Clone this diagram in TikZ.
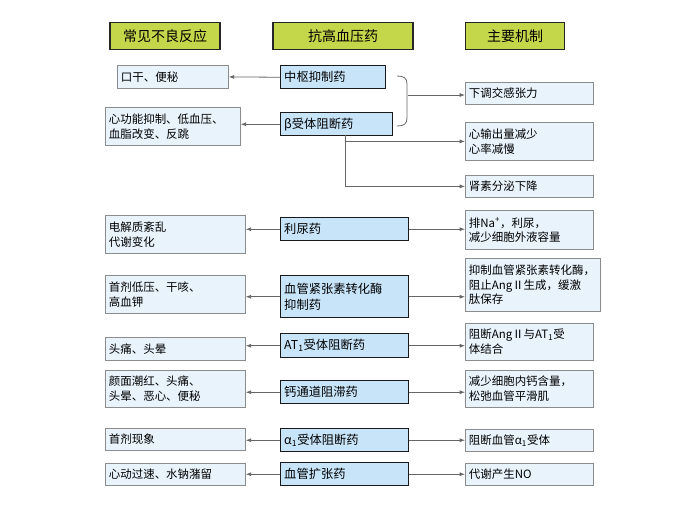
\documentclass[tikz,border=0pt]{standalone}
\usepackage{fontspec}
\setmainfont{Noto Sans CJK SC}
\usetikzlibrary{arrows.meta,decorations.pathreplacing}
\definecolor{hdrgreen}{RGB}{196,214,74}
\definecolor{midblue}{RGB}{200,228,248}
\definecolor{sideblue}{RGB}{232,243,252}
\tikzset{
  hdr/.style={draw=black!85,line width=1.2pt,fill=hdrgreen,minimum height=27*0.75pt,font=\fontsize{10.5}{12}\selectfont},
  mid/.style={draw=black!90,line width=1.1pt,fill=midblue,anchor=north west,align=left,inner sep=2.5pt,font=\fontsize{9.2}{12}\selectfont},
  side/.style={draw=black!45,line width=0.6pt,fill=sideblue,anchor=north west,align=left,inner sep=2.5pt,font=\fontsize{8.6}{11}\selectfont},
  link/.style={draw=black!60,line width=0.6pt,-{Latex[length=4pt,width=3pt]}}
}
\begin{document}
\begin{tikzpicture}[x=0.75pt,y=0.75pt,yscale=-1,xscale=1]
\useasboundingbox (0,0) rectangle (700,525);

% headers
\node[hdr,minimum width=110*0.75pt] (hAdv) at (165,36) {常见不良反应};
\node[hdr,minimum width=140*0.75pt] (hDrug) at (343,36) {抗高血压药};
\node[hdr,minimum width=99*0.75pt] (hMech) at (515,36) {主要机制};

% 中枢抑制药 / beta
\node[mid,minimum width=105*0.75pt,minimum height=23*0.75pt,text width=98*0.75pt] (dCen) at (280,65) {中枢抑制药};
\node[side,minimum width=111*0.75pt,minimum height=23*0.75pt,text width=104*0.75pt] (aCen) at (117,65) {口干、便秘};
\node[mid,minimum width=112*0.75pt,minimum height=23*0.75pt,text width=105*0.75pt] (dBeta) at (280,112) {β受体阻断药};
\node[side,minimum width=135*0.75pt,minimum height=38*0.75pt,text width=128*0.75pt] (aBeta) at (105,107) {心功能抑制、低血压、\\血脂改变、反跳};
\node[side,minimum width=128*0.75pt,minimum height=22*0.75pt,text width=121*0.75pt] (mSym) at (465,82) {下调交感张力};
\node[side,minimum width=128*0.75pt,minimum height=38*0.75pt,text width=121*0.75pt] (mHeart) at (465,122) {心输出量减少\\心率减慢};
\node[side,minimum width=128*0.75pt,minimum height=22*0.75pt,text width=121*0.75pt] (mRenin) at (465,175) {肾素分泌下降};

\draw[link] (dCen.west) -- (aCen.east);
\draw[link] (dBeta.west) -- (aBeta.east |- dBeta.west);
\draw[black!60,line width=0.6pt] (397,76) .. controls (404,76) and (407,78) .. (407,84) -- (407,118) .. controls (407,124) and (404,126) .. (397,126);
\coordinate (bTip) at (408,95);
\draw[link] (bTip) -- (mSym.west |- bTip);
\coordinate (bStem) at (345,135);
\draw[link] (bStem) |- (mHeart.west);
\draw[link] (bStem) |- (mRenin.west);

% 利尿药
\node[mid,minimum width=128*0.75pt,minimum height=23*0.75pt,text width=121*0.75pt] (dDiu) at (280,217) {利尿药};
\node[side,minimum width=140*0.75pt,minimum height=38*0.75pt,text width=133*0.75pt] (aDiu) at (105,215) {电解质紊乱\\代谢变化};
\node[side,minimum width=128*0.75pt,minimum height=39*0.75pt,text width=121*0.75pt] (mDiu) at (465,210) {排Na\textsuperscript{+}，利尿，\\减少细胞外液容量};
\draw[link] (dDiu.west) -- (aDiu.east |- dDiu.west);
\draw[link] (dDiu.east) -- (mDiu.west |- dDiu.east);

% ACEI
\node[mid,minimum width=128*0.75pt,minimum height=42*0.75pt,text width=121*0.75pt] (dAce) at (280,275) {血管紧张素转化酶\\抑制药};
\node[side,minimum width=140*0.75pt,minimum height=38*0.75pt,text width=133*0.75pt] (aAce) at (105,275) {首剂低压、干咳、\\高血钾};
\node[side,minimum width=135*0.75pt,minimum height=53*0.75pt,text width=128*0.75pt] (mAce) at (465,258) {抑制血管紧张素转化酶，\\阻止AngⅡ生成，缓激\\肽保存};
\draw[link] (dAce.west) -- (aAce.east |- dAce.west);
\draw[link] (dAce.east) -- (mAce.west |- dAce.east);

% AT1
\node[mid,minimum width=128*0.75pt,minimum height=24*0.75pt,text width=121*0.75pt] (dAT) at (280,333) {AT\textsubscript{1}受体阻断药};
\node[side,minimum width=140*0.75pt,minimum height=23*0.75pt,text width=133*0.75pt] (aAT) at (105,337) {头痛、头晕};
\node[side,minimum width=128*0.75pt,minimum height=37*0.75pt,text width=121*0.75pt] (mAT) at (465,323) {阻断AngⅡ与AT\textsubscript{1}受\\体结合};
\draw[link] (dAT.west) -- (aAT.east |- dAT.west);
\draw[link] (dAT.east) -- (mAT.west |- dAT.east);

% 钙通道阻滞药
\node[mid,minimum width=128*0.75pt,minimum height=23*0.75pt,text width=121*0.75pt] (dCa) at (280,380) {钙通道阻滞药};
\node[side,minimum width=140*0.75pt,minimum height=37*0.75pt,text width=133*0.75pt] (aCa) at (105,370) {颜面潮红、头痛、\\头晕、恶心、便秘};
\node[side,minimum width=128*0.75pt,minimum height=37*0.75pt,text width=121*0.75pt] (mCa) at (465,370) {减少细胞内钙含量，\\松弛血管平滑肌};
\draw[link] (dCa.west) -- (aCa.east |- dCa.west);
\draw[link] (dCa.east) -- (mCa.west |- dCa.east);

% alpha1
\node[mid,minimum width=128*0.75pt,minimum height=23*0.75pt,text width=121*0.75pt] (dAlpha) at (280,428) {α\textsubscript{1}受体阻断药};
\node[side,minimum width=140*0.75pt,minimum height=22*0.75pt,text width=133*0.75pt] (aAlpha) at (105,428) {首剂现象};
\node[side,minimum width=128*0.75pt,minimum height=22*0.75pt,text width=121*0.75pt] (mAlpha) at (465,429) {阻断血管α\textsubscript{1}受体};
\draw[link] (dAlpha.west) -- (aAlpha.east |- dAlpha.west);
\draw[link] (dAlpha.east) -- (mAlpha.west |- dAlpha.east);

% 血管扩张药
\node[mid,minimum width=128*0.75pt,minimum height=23*0.75pt,text width=121*0.75pt] (dVaso) at (280,462) {血管扩张药};
\node[side,minimum width=140*0.75pt,minimum height=22*0.75pt,text width=133*0.75pt] (aVaso) at (105,463) {心动过速、水钠潴留};
\node[side,minimum width=128*0.75pt,minimum height=22*0.75pt,text width=121*0.75pt] (mVaso) at (465,463) {代谢产生NO};
\draw[link] (dVaso.west) -- (aVaso.east |- dVaso.west);
\draw[link] (dVaso.east) -- (mVaso.west |- dVaso.east);
\end{tikzpicture}
\end{document}
